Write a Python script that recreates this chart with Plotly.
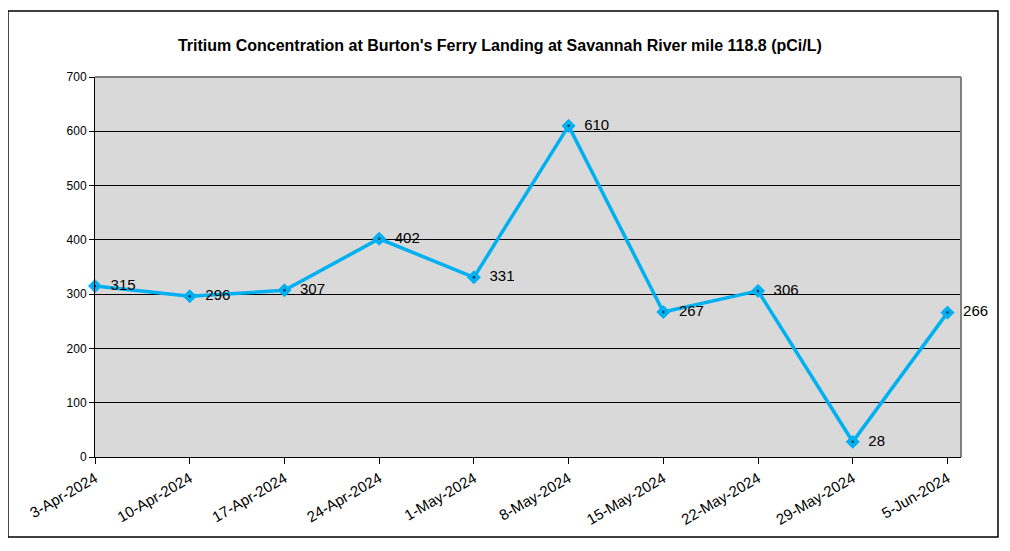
import plotly.graph_objects as go

dates = ["2024-04-03", "2024-04-10", "2024-04-17", "2024-04-24", "2024-05-01",
         "2024-05-08", "2024-05-15", "2024-05-22", "2024-05-29", "2024-06-05"]
tick_labels = ["3-Apr-2024", "10-Apr-2024", "17-Apr-2024", "24-Apr-2024", "1-May-2024",
               "8-May-2024", "15-May-2024", "22-May-2024", "29-May-2024", "5-Jun-2024"]
tritium = [315, 296, 307, 402, 331, 610, 267, 306, 28, 266]
y_ticks = [0, 100, 200, 300, 400, 500, 600, 700]

font_family = "Liberation Sans, Arial, sans-serif"

fig = go.Figure()
fig.add_trace(go.Scatter(
    x=dates, y=tritium,
    mode="lines+markers+text",
    line=dict(color="#00b0f0", width=3.5),
    marker=dict(symbol="diamond", size=10, color="#00b0f0",
                line=dict(color="#00b0f0", width=1)),
    text=[f"  {v}" for v in tritium],
    textposition="middle right",
    textfont=dict(family=font_family, size=15, color="#000000"),
    cliponaxis=False,
    showlegend=False,
))
fig.add_trace(go.Scatter(
    x=dates, y=tritium, mode="markers",
    marker=dict(symbol="circle", size=2.5, color="#003a5a"),
    cliponaxis=False, showlegend=False, hoverinfo="skip",
))

fig.update_layout(
    width=1010, height=551,
    margin=dict(l=87, r=57, t=69, b=102),
    paper_bgcolor="white",
    plot_bgcolor="#d9d9d9",
    title=dict(text="<b>Tritium Concentration at Burton's Ferry Landing at Savannah River mile 118.8 (pCi/L)</b>",
               x=0.487, xanchor="center", y=0.933, yanchor="middle",
               font=dict(family=font_family, size=16, color="#000000")),
    font=dict(family=font_family, color="#000000"),
)

fig.update_xaxes(
    type="date",
    range=["2024-04-03", "2024-06-06"],
    tickvals=dates, ticktext=tick_labels,
    tickangle=-30,
    tickfont=dict(family=font_family, size=15, color="#000000"),
    showgrid=False, zeroline=False,
    showline=True, linecolor="#000000", linewidth=1,
    ticks="outside", ticklen=6, tickcolor="#000000",
    automargin=False,
)
fig.update_yaxes(
    range=[0, 700], tickvals=y_ticks,
    tickfont=dict(family=font_family, size=12, color="#000000"),
    showgrid=True, gridcolor="#000000", gridwidth=1,
    zeroline=False,
    showline=True, linecolor="#000000", linewidth=1,
    ticks="outside", ticklen=5, tickcolor="#000000",
    automargin=False,
)

# gray top and right edges of plot area
fig.add_shape(type="line", xref="paper", yref="paper", x0=0, x1=1, y0=1, y1=1,
              line=dict(color="#808080", width=2))
fig.add_shape(type="line", xref="paper", yref="paper", x0=1, x1=1, y0=0, y1=1,
              line=dict(color="#808080", width=2))
# outer chart border
fig.add_shape(type="rect", xref="paper", yref="paper",
              x0=-0.1005, x1=1.0427, y0=-0.2105, y1=1.1737,
              line=dict(color="#000000", width=1.5), layer="below")

fig.write_html("out.html")
